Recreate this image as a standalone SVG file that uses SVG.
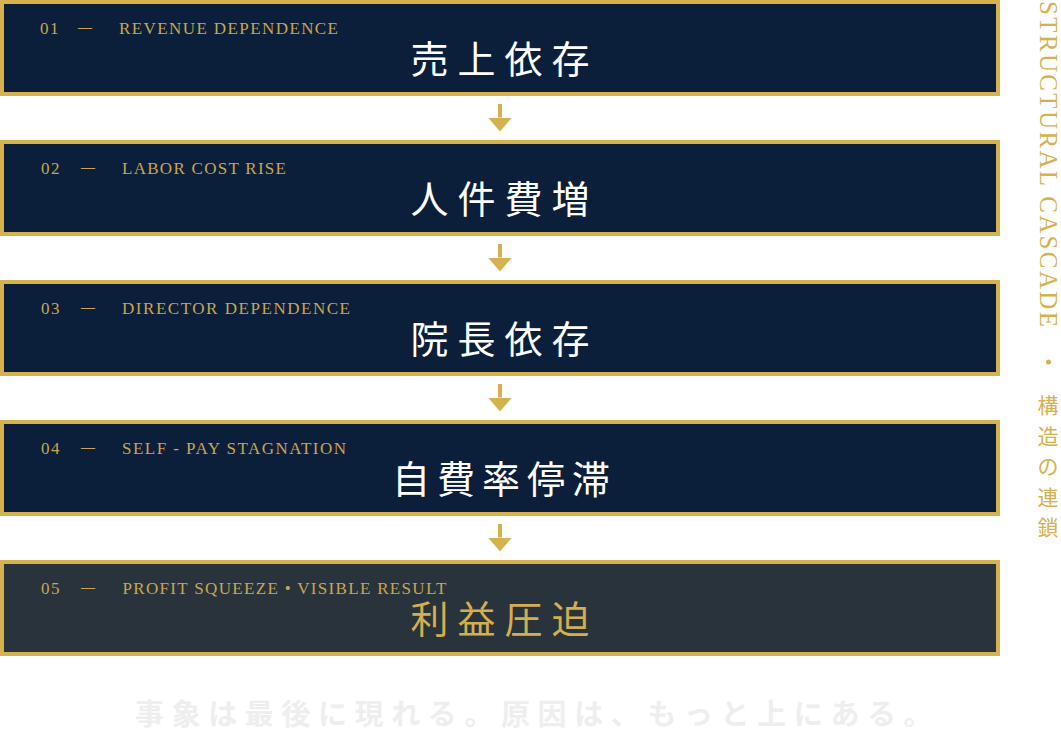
<svg xmlns="http://www.w3.org/2000/svg" width="1061" height="732" viewBox="0 0 1061 732">
  <defs>
    <style>
      .box { fill: #0c1f3a; stroke: #d5b150; stroke-width: 4; }
      .box.last { fill: #29333c; }
      .num { font-family: "Liberation Serif", serif; font-size: 17px; letter-spacing: 1.5px; fill: #c9a64f; }
      .dash { font-family: "Liberation Serif", serif; font-size: 14px; font-weight: 700; fill: #c9a64f; }
      .lbl { font-family: "Liberation Serif", serif; font-size: 17px; fill: #c9a64f; }
      .ttl { font-family: "Noto Sans CJK JP", sans-serif; font-size: 38px; letter-spacing: 9px; fill: #ffffff; }
      .ttl.gold { fill: #d4ae4f; }
      .side { font-family: "Liberation Serif", serif; font-size: 25px; fill: #d5b150; }
      .sidejp { font-family: "Noto Sans CJK JP", sans-serif; font-size: 21px; fill: #d5b150; text-anchor: middle; }
      .foot { font-family: "Noto Sans CJK JP", sans-serif; font-size: 29px; font-weight: 700; letter-spacing: 7.6px; fill: #eeeeee; }
      .conn { stroke: #d5b150; stroke-width: 4; fill: none; }
    </style>
    <marker id="ah" markerUnits="userSpaceOnUse" markerWidth="14" markerHeight="24" refX="0" refY="12" orient="auto">
      <path d="M0,0 L14,12 L0,24 z" fill="#d5b150"/>
    </marker>
  </defs>

  <g id="node-01">
    <rect class="box" x="2" y="2" width="996" height="92"/>
    <text class="num" x="40" y="34">01</text>
    <text class="dash" x="78" y="32">—</text>
    <text class="lbl" x="119" y="34" textLength="219" lengthAdjust="spacing">REVENUE DEPENDENCE</text>
    <text class="ttl" x="410.5" y="73">売上依存</text>
  </g>

  <g id="node-02">
    <rect class="box" x="2" y="142" width="996" height="92"/>
    <text class="num" x="41" y="174">02</text>
    <text class="dash" x="81" y="172">—</text>
    <text class="lbl" x="122" y="174" textLength="164" lengthAdjust="spacing">LABOR COST RISE</text>
    <text class="ttl" x="410.5" y="213">人件費増</text>
  </g>

  <g id="node-03">
    <rect class="box" x="2" y="282" width="996" height="92"/>
    <text class="num" x="41" y="314">03</text>
    <text class="dash" x="81" y="312">—</text>
    <text class="lbl" x="122" y="314" textLength="228" lengthAdjust="spacing">DIRECTOR DEPENDENCE</text>
    <text class="ttl" x="410.5" y="353">院長依存</text>
  </g>

  <g id="node-04">
    <rect class="box" x="2" y="422" width="996" height="92"/>
    <text class="num" x="41" y="454">04</text>
    <text class="dash" x="81" y="452">—</text>
    <text class="lbl" x="122" y="454" textLength="224" lengthAdjust="spacing">SELF - PAY STAGNATION</text>
    <text class="ttl" x="392" y="493" style="letter-spacing:7px">自費率停滞</text>
  </g>

  <g id="node-05">
    <rect class="box last" x="2" y="562" width="996" height="92"/>
    <text class="num" x="41" y="594">05</text>
    <text class="dash" x="81" y="592">—</text>
    <text class="lbl" x="122.5" y="594" textLength="324" lengthAdjust="spacing">PROFIT SQUEEZE • VISIBLE RESULT</text>
    <text class="ttl gold" x="410.5" y="633">利益圧迫</text>
  </g>

  <g id="connectors">
    <line class="conn" x1="500" y1="104" x2="500" y2="117.5" marker-end="url(#ah)"/>
    <line class="conn" x1="500" y1="244" x2="500" y2="257.5" marker-end="url(#ah)"/>
    <line class="conn" x1="500" y1="384" x2="500" y2="397.5" marker-end="url(#ah)"/>
    <line class="conn" x1="500" y1="524" x2="500" y2="537.5" marker-end="url(#ah)"/>
  </g>

  <g id="side-label">
    <text class="side" transform="translate(1040,1) rotate(90)" x="0" y="0" textLength="326" lengthAdjust="spacing">STRUCTURAL CASCADE</text>
    <circle cx="1048.5" cy="362" r="2.5" fill="#d5b150"/>
    <text class="sidejp"><tspan x="1048" y="413">構</tspan><tspan x="1048" y="443.5">造</tspan><tspan x="1048" y="474">の</tspan><tspan x="1048" y="504.5">連</tspan><tspan x="1048" y="535">鎖</tspan></text>
  </g>

  <g id="footer">
    <text class="foot" x="135" y="725">事象は最後に現れる。原因は、もっと上にある。</text>
  </g>
</svg>
